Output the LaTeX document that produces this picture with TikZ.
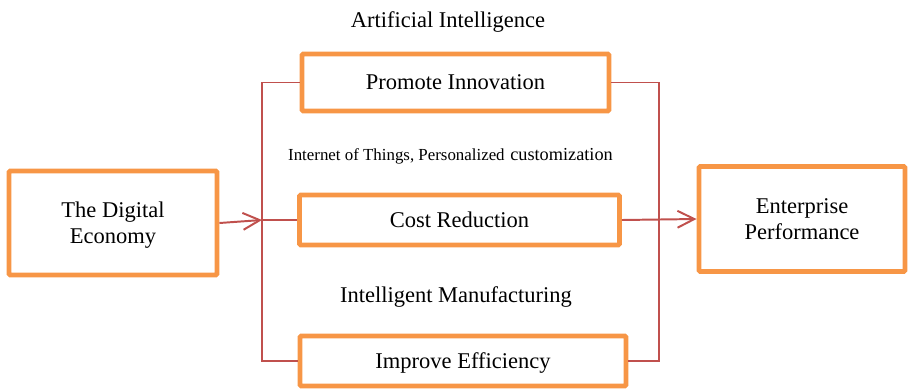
\documentclass[tikz,border=0pt]{standalone}
\usepackage{fontspec}
\setmainfont{Liberation Serif}
\usetikzlibrary{arrows.meta}

\definecolor{boxorange}{HTML}{F79646}
\definecolor{linkred}{HTML}{C0504D}

\begin{document}
\begin{tikzpicture}[
    x=0.025cm, y=-0.025cm,
    >={Straight Barb[length=12pt, width=12pt]},
    block/.style={rectangle, draw=boxorange, line width=3.5pt, rounded corners=1pt,
                  align=center, inner sep=0pt, text depth=0pt, font=\fontsize{16}{18.4}\selectfont},
    link/.style={draw=linkred, line width=1.4pt},
    tag/.style={anchor=base, inner sep=0pt, font=\fontsize{16}{18.4}\selectfont}
]
    \useasboundingbox (0,0) rectangle (909,389);

    % Левый и правый блоки
    \node[block, minimum width=208*0.025cm, minimum height=104*0.025cm] (econ) at (113, 223) {The Digital\\Economy};
    \node[block, minimum width=206*0.025cm, minimum height=105*0.025cm] (perf) at (802, 219) {Enterprise\\Performance};

    % Средняя колонка
    \node[block, minimum width=307*0.025cm, minimum height=57*0.025cm] (innov) at (455.5, 82.5) {Promote Innovation};
    \node[block, minimum width=320*0.025cm, minimum height=50*0.025cm] (cost) at (459.5, 220) {Cost Reduction};
    \node[block, minimum width=326*0.025cm, minimum height=50*0.025cm] (effic) at (463, 361) {Improve Efficiency};

    % Подписи над блоками
    \node[tag] (ai) at (448, 27) {Artificial Intelligence};
    \node[tag] (iot) at (450.5, 160.5) {{\fontsize{12}{14}\selectfont Internet of Things, Personalized} {\fontsize{13}{15}\selectfont customization}};
    \node[tag] (im) at (456, 302) {Intelligent Manufacturing};

    % Вертикальные шины
    \coordinate (busL) at (262, 220);
    \coordinate (busR) at (659, 220);

    % Левая шина
    \draw[link] (innov.west) -- (innov.west -| busL) -- (effic.west -| busL) -- (effic.west);
    \draw[link, ->] (econ.east) -- (cost.west -| busL);
    \draw[link] (cost.west -| busL) -- (cost.west);

    % Правая шина
    \draw[link] (innov.east) -- (innov.east -| busR) -- (effic.east -| busR) -- (effic.east);
    \draw[link, ->] (cost.east) -- (perf.west);
\end{tikzpicture}
\end{document}
